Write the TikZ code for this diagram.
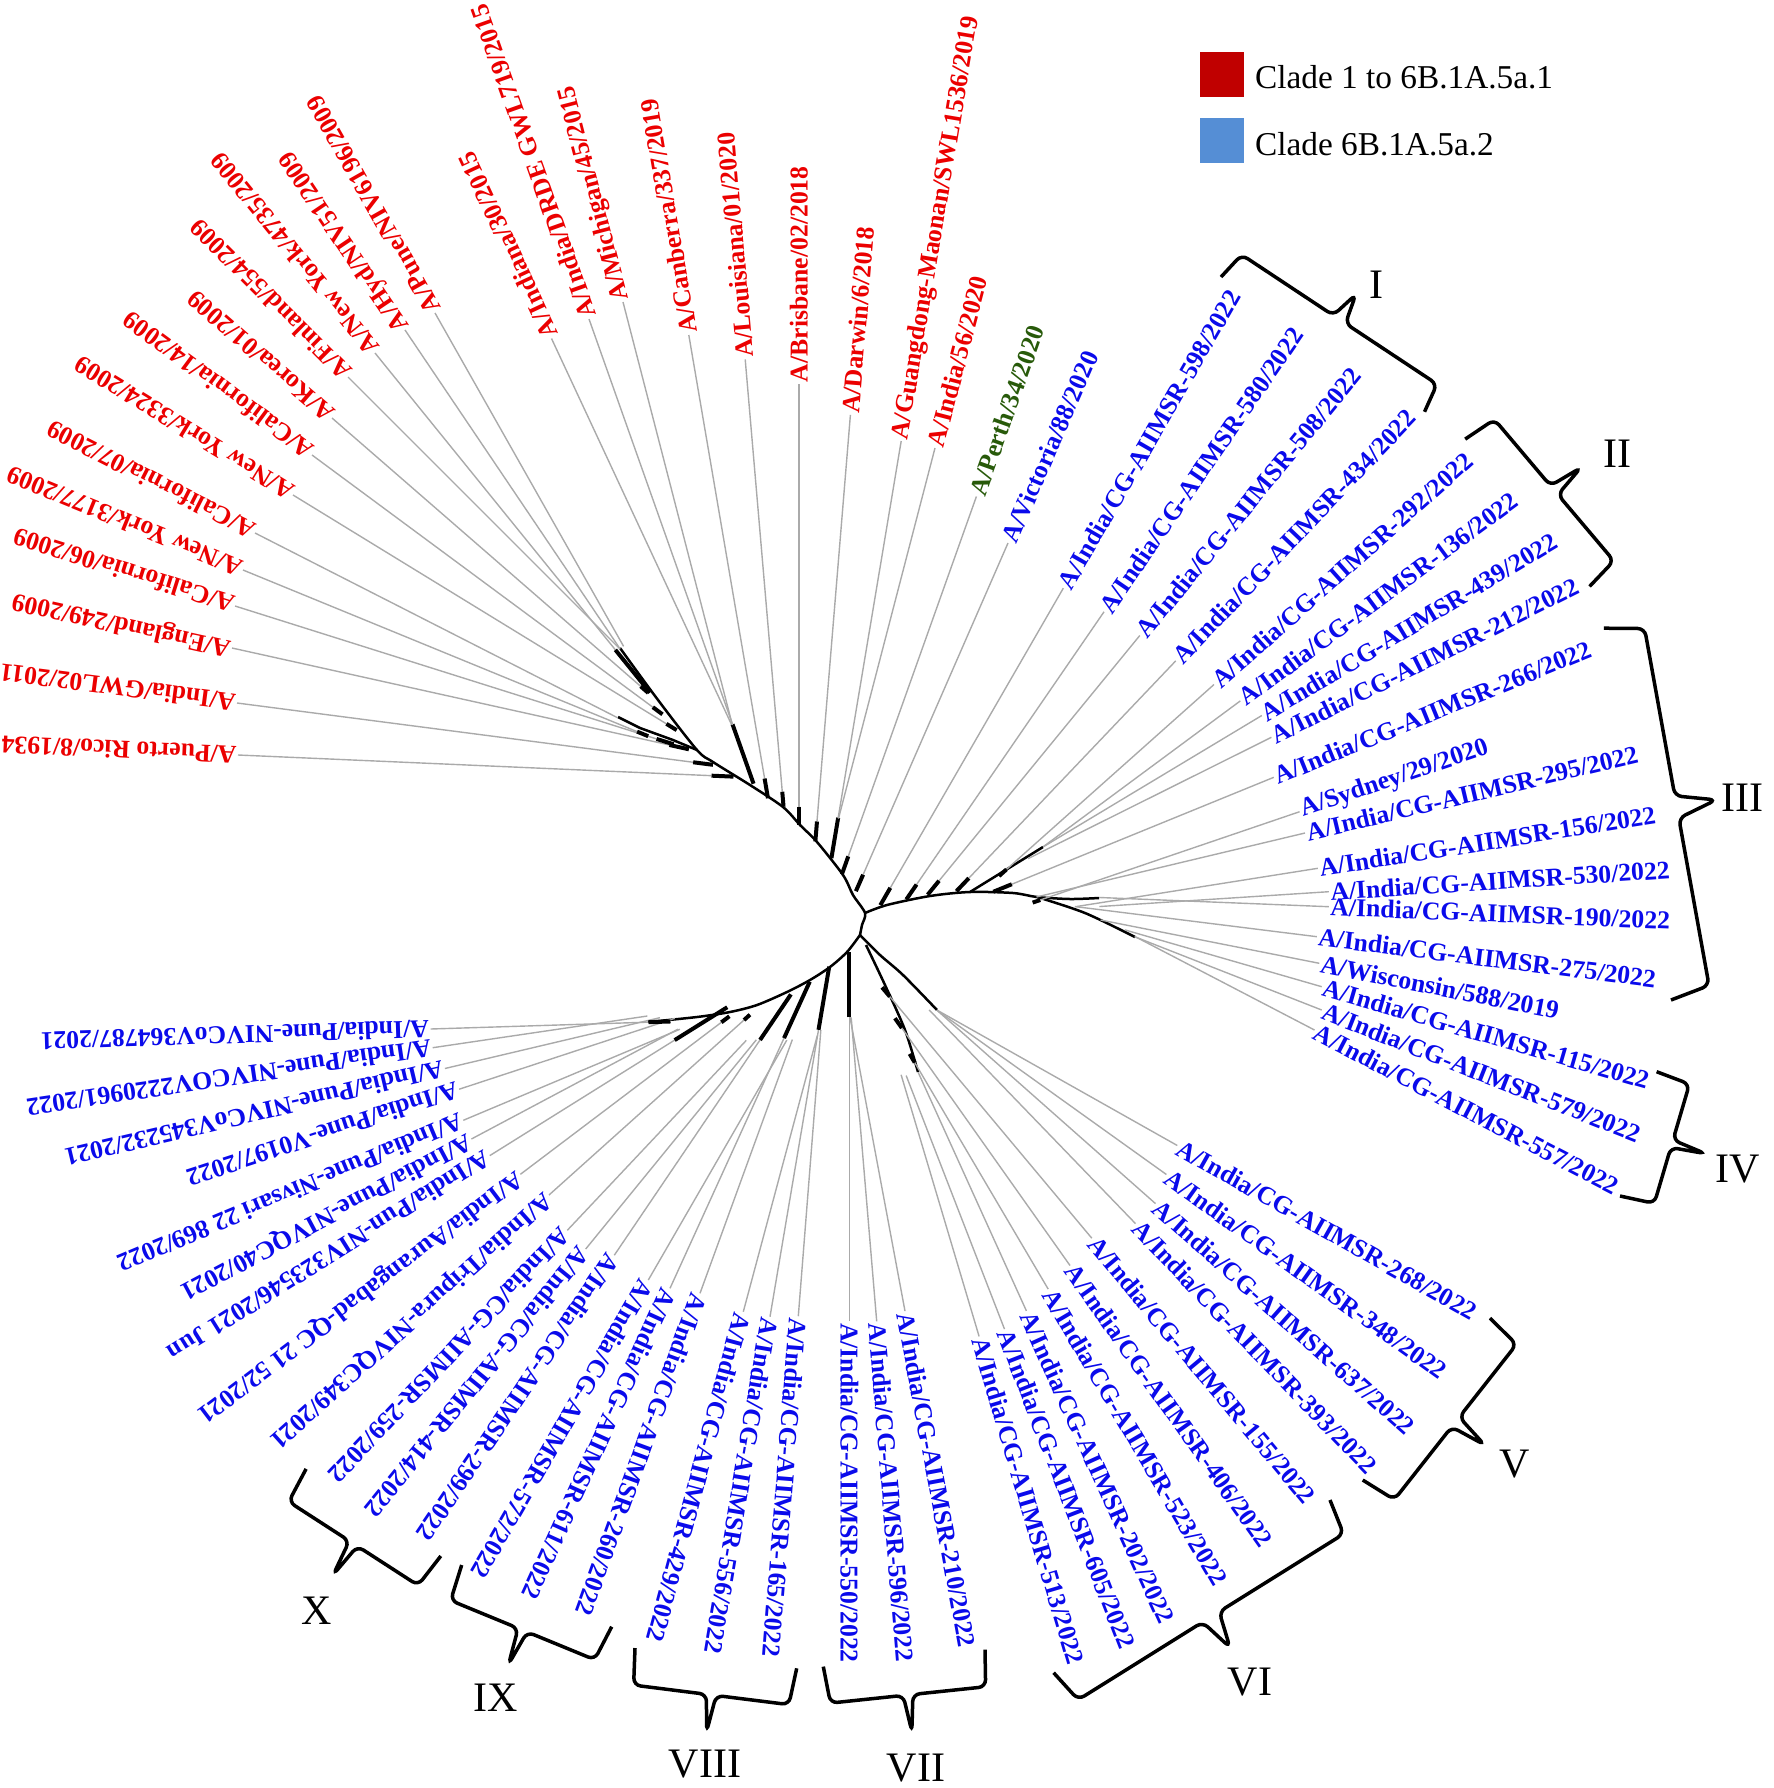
\documentclass[tikz,border=0pt]{standalone}
\usepackage{fontspec}
\setmainfont{Liberation Serif}
\usetikzlibrary{calc}

\definecolor{redlab}{RGB}{235,0,0}
\definecolor{bluelab}{RGB}{10,10,235}
\definecolor{greenlab}{RGB}{40,90,10}
\definecolor{linegray}{RGB}{170,170,170}
\definecolor{legred}{RGB}{192,0,0}
\definecolor{legblue}{RGB}{85,142,213}

\tikzset{
  taxon/.style={anchor=west, inner sep=1.5pt, font=\fontsize{25.7}{28}\selectfont\bfseries},
  dotline/.style={draw=linegray, line width=1.4pt},
  branch/.style={draw=black, line width=2.5pt, line join=round},
  twig/.style={draw=black, line width=4pt},
  clade/.style={draw=black, line width=3.5pt, rounded corners=7pt},
  cladename/.style={font=\fontsize{42}{44}\selectfont},
  key/.style={anchor=base west, inner sep=0pt, font=\fontsize{33.3}{36}\selectfont}
}

% colour, name, x, y, angle, gray length, black length, text
\newcommand{\taxon}[8]{%
  \node[taxon, text=#1, rotate=#5] (#2) at (#3,#4) {#8};
  \coordinate (#2t) at ($(#2.west)+({#5+180}:#6pt)$);
  \draw[dotline] (#2t) -- (#2.west);
  \ifdim #7pt>0pt \draw[twig] (#2t) -- ($(#2t)+({#5+180}:#7pt)$);\fi
}

% bracket from one end to the other, arms #3 out, tip 2*#3 out
\newcommand{\cladebrace}[3]{%
  \coordinate (q1) at ($(#1)!0.02!(#2)$);
  \coordinate (q2) at ($(#1)!0.47!(#2)$);
  \coordinate (q3) at ($(#1)!0.5!(#2)$);
  \coordinate (q4) at ($(#1)!0.53!(#2)$);
  \coordinate (q5) at ($(#1)!0.98!(#2)$);
  \draw[clade] (#1) -- ($(q1)!#3pt!90:(#2)$) -- ($(q2)!#3pt!90:(#2)$)
    -- ($(q3)!2*#3pt!90:(#2)$) -- ($(q4)!#3pt!90:(#2)$)
    -- ($(q5)!#3pt!90:(#2)$) -- (#2);
}

\begin{document}
\begin{tikzpicture}[x=1pt, y=-1pt]
\useasboundingbox (0,0) rectangle (1774,1788);

% backbone of the tree
\draw[branch] plot[smooth] coordinates {(860,935) (862,925) (865,913) (853,895) (843,875) (817,842) (800,825) (783,807) (750,785) (713,762) (697,750) (658,700) (620,648)};
\draw[branch] (697,750) -- (673,740) -- (640,728) -- (618,717);
\draw[branch] plot[smooth] coordinates {(865,913) (887,905) (930,896) (970,892) (1013,893) (1037,897) (1070,899) (1099,898)};
\draw[branch] (970,892) -- (1043,847);
\draw[branch] plot[smooth] coordinates {(1037,897) (1085,913) (1135,937)};
\draw[branch] plot[smooth] coordinates {(860,935) (847,952) (830,967) (810,980) (787,992) (757,1005) (730,1012) (697,1017) (648,1022)};
\draw[branch] plot[smooth] coordinates {(860,935) (880,955) (903,975) (937,1010)};
\draw[branch] plot[smooth] coordinates {(866,945) (885,985) (905,1030) (918,1072)};

% clade 1 to 6B.1A.5a.1
\taxon{redlab}{r1}{238}{755}{177.5}{474}{22}{A/Puerto Rico/8/1934}
\taxon{redlab}{r2}{237}{703}{172.6}{460}{20}{A/India/GWL02/2011}
\taxon{redlab}{r3}{232}{648}{167.5}{448}{20}{A/England/249/2009}
\taxon{redlab}{r4}{235}{606}{162.5}{442}{18}{A/California/06/2009}
\taxon{redlab}{r5}{243}{570}{157.7}{426}{12}{A/New York/3177/2009}
\taxon{redlab}{r6}{255}{533}{153}{407}{0}{A/California/07/2009}
\taxon{redlab}{r7}{293}{495}{148.5}{438}{12}{A/New York/3324/2009}
\taxon{redlab}{r8}{312}{455}{143.5}{424}{12}{A/California/14/2009}
\taxon{redlab}{r9}{332}{418}{139}{409}{10}{A/Korea/01/2009}
\taxon{redlab}{r10}{348}{377}{135}{385}{0}{A/Finland/554/2009}
\taxon{redlab}{r11}{375}{353}{129}{382}{55}{A/New York/4735/2009}
\taxon{redlab}{r12}{405}{330}{124}{384}{0}{A/Hyd/NIV51/2009}
\taxon{redlab}{r13}{435}{313}{119.5}{383}{0}{A/Pune/NIV6196/2009}
\taxon{redlab}{r14}{551.5}{338.5}{115}{426}{0}{A/Indiana/30/2015}
\taxon{redlab}{r15}{589}{319}{109.5}{430}{63}{A/India/DRDE GWL719/2015}
\taxon{redlab}{r16}{623}{302}{104.5}{437}{0}{A/Michigan/45/2015}
\taxon{redlab}{r17}{688.8}{335}{99.7}{450}{20}{A/Canberra/337/2019}
\taxon{redlab}{r18}{745.2}{359.4}{94.9}{434}{15}{A/Louisiana/01/2020}
\taxon{redlab}{r19}{798.9}{383.7}{90}{423}{18}{A/Brisbane/02/2018}
\taxon{redlab}{r20}{850.4}{414.9}{85.3}{408}{20}{A/Darwin/6/2018}
\taxon{redlab}{r21}{901.2}{441}{80.5}{382}{41}{A/Guangdong-Maonan/SWL1536/2019}
\taxon{redlab}{r22}{935}{448}{75.4}{383}{0}{A/India/56/2020}
\taxon{greenlab}{g1}{976.4}{496.5}{70.4}{382}{19}{A/Perth/34/2020}

% clade 6B.1A.5a.2
\taxon{bluelab}{b1}{1008}{543}{66.4}{362}{18}{A/Victoria/88/2020}
\taxon{bluelab}{b2}{1063.3}{588.2}{60}{346}{20}{A/India/CG-AIIMSR-598/2022}
\taxon{bluelab}{b3}{1104}{611.8}{55.5}{331}{18}{A/India/CG-AIIMSR-580/2022}
\taxon{bluelab}{b4}{1139.8}{635.5}{50.7}{317}{18}{A/India/CG-AIIMSR-508/2022}
\taxon{bluelab}{b5}{1175.7}{660.9}{46.4}{300}{18}{A/India/CG-AIIMSR-434/2022}
\taxon{bluelab}{b6}{1214}{684.5}{41.7}{278}{10}{A/India/CG-AIIMSR-292/2022}
\taxon{bluelab}{b7}{1240.3}{700.9}{36.5}{245}{0}{A/India/CG-AIIMSR-136/2022}
\taxon{bluelab}{b8}{1261.8}{715.5}{31}{255}{0}{A/India/CG-AIIMSR-439/2022}
\taxon{bluelab}{b9}{1271.4}{737.3}{26.5}{272}{0}{A/India/CG-AIIMSR-212/2022}
\taxon{bluelab}{b10}{1273.8}{777.3}{22.2}{283}{20}{A/India/CG-AIIMSR-266/2022}
\taxon{bluelab}{b11}{1299.6}{811.7}{18.8}{274}{8}{A/Sydney/29/2020}
\taxon{bluelab}{b12}{1305}{833}{13.4}{276}{0}{A/India/CG-AIIMSR-295/2022}
\taxon{bluelab}{b13}{1317.8}{868.3}{9}{244}{0}{A/India/CG-AIIMSR-156/2022}
\taxon{bluelab}{b14}{1328.8}{891.7}{3.7}{230}{0}{A/India/CG-AIIMSR-530/2022}
\taxon{bluelab}{b15}{1328.8}{906.7}{-2.3}{230}{0}{A/India/CG-AIIMSR-190/2022}
\taxon{bluelab}{b16}{1316.9}{936.7}{-7.1}{244}{0}{A/India/CG-AIIMSR-275/2022}
\taxon{bluelab}{b17}{1319.3}{963.3}{-11.2}{223}{0}{A/Wisconsin/588/2019}
\taxon{bluelab}{b18}{1321.7}{986.7}{-16.1}{205}{0}{A/India/CG-AIIMSR-115/2022}
\taxon{bluelab}{b19}{1321.7}{1010}{-21.4}{201}{0}{A/India/CG-AIIMSR-579/2022}
\taxon{bluelab}{b20}{1314.5}{1030}{-27.5}{202}{0}{A/India/CG-AIIMSR-557/2022}
\taxon{bluelab}{b21}{1177.3}{1145.5}{-29.4}{276}{0}{A/India/CG-AIIMSR-268/2022}
\taxon{bluelab}{b22}{1166.4}{1174.5}{-35.6}{282}{0}{A/India/CG-AIIMSR-348/2022}
\taxon{bluelab}{b23}{1155.5}{1203.6}{-41.5}{292}{0}{A/India/CG-AIIMSR-637/2022}
\taxon{bluelab}{b24}{1135.5}{1223.6}{-46}{297}{0}{A/India/CG-AIIMSR-393/2022}
\taxon{bluelab}{b25}{1091.8}{1238.2}{-50.1}{315}{12}{A/India/CG-AIIMSR-155/2022}
\taxon{bluelab}{b26}{1070}{1265.5}{-54.7}{291}{12}{A/India/CG-AIIMSR-406/2022}
\taxon{bluelab}{b27}{1048.2}{1289.1}{-59.5}{263}{10}{A/India/CG-AIIMSR-523/2022}
\taxon{bluelab}{b28}{1026.4}{1310.9}{-65.6}{262}{0}{A/India/CG-AIIMSR-202/2022}
\taxon{bluelab}{b29}{1004.5}{1329.1}{-68.8}{272}{0}{A/India/CG-AIIMSR-605/2022}
\taxon{bluelab}{b30}{979.1}{1336.4}{-73.4}{273}{0}{A/India/CG-AIIMSR-513/2022}
\taxon{bluelab}{b31}{905}{1311.1}{-79.4}{299}{0}{A/India/CG-AIIMSR-210/2022}
\taxon{bluelab}{b32}{876.7}{1321.3}{-85.2}{305}{0}{A/India/CG-AIIMSR-596/2022}
\taxon{bluelab}{b33}{849.3}{1321.3}{-90}{304}{65}{A/India/CG-AIIMSR-550/2022}
\taxon{bluelab}{b34}{798.3}{1316.2}{-94.5}{287}{0}{A/India/CG-AIIMSR-165/2022}
\taxon{bluelab}{b35}{770}{1316.7}{-99.6}{291}{64}{A/India/CG-AIIMSR-556/2022}
\taxon{bluelab}{b36}{743.3}{1311.7}{-105}{286}{0}{A/India/CG-AIIMSR-429/2022}
\taxon{bluelab}{b37}{700}{1293.3}{-110}{270}{0}{A/India/CG-AIIMSR-260/2022}
\taxon{bluelab}{b38}{670}{1288.3}{-114.5}{275}{62}{A/India/CG-AIIMSR-611/2022}
\taxon{bluelab}{b39}{648.3}{1280}{-120}{277}{0}{A/India/CG-AIIMSR-572/2022}
\taxon{bluelab}{b40}{614.3}{1255.2}{-124.1}{260}{55}{A/India/CG-AIIMSR-299/2022}
\taxon{bluelab}{b41}{585.7}{1249}{-129.2}{270}{0}{A/India/CG-AIIMSR-414/2022}
\taxon{bluelab}{b42}{567.3}{1230.3}{-133.3}{261}{0}{A/India/CG-AIIMSR-259/2022}
\taxon{bluelab}{b43}{549}{1195}{-138.1}{262}{8}{A/India/Tripura-NIVQC349/2021}
\taxon{bluelab}{b44}{520.4}{1174.3}{-142.9}{252}{10}{A/India/Aurangabad-QC 21 52/2021}
\taxon{bluelab}{b45}{489.8}{1155.6}{-148}{218}{62}{A/India/Pun-NIV323546/2021 Jun}
\taxon{bluelab}{b46}{471.4}{1139}{-152}{234}{0}{A/India/Pune-NIVQC40/2021}
\taxon{bluelab}{b47}{463.3}{1120.3}{-157.2}{235}{0}{A/India/Pune-Nivsari 22 869/2022}
\taxon{bluelab}{b48}{459.2}{1089.2}{-161.8}{227}{0}{A/India/Pune-V0197/2022}
\taxon{bluelab}{b49}{444.9}{1068.5}{-166.7}{221}{0}{A/India/Pune-NIVCoV345232/2021}
\taxon{bluelab}{b50}{432.7}{1047.7}{-171.6}{217}{0}{A/India/Pune-NIVCOV2220961/2022}
\taxon{bluelab}{b51}{430.6}{1029}{-178.2}{218}{22}{A/India/Pune-NIVCoV364787/2021}

% clade brackets
\cladebrace{1221,277}{1424.5,411.8}{30}
\cladebrace{1465.2,439.1}{1589.6,586.4}{35}
\cladebrace{1603.9,628.2}{1671,1000}{40}
\cladebrace{1656.6,1071.7}{1620,1196}{35}
\cladebrace{1490,1318.2}{1362.7,1480}{37}
\cladebrace{1330,1500}{1053.6,1672.7}{36}
\cladebrace{985,1649.6}{823.3,1666.6}{37}
\cladebrace{796.7,1668.3}{635,1648}{37}
\cladebrace{611.7,1626.7}{461.7,1565}{37}
\cladebrace{440.8,1556}{306.1,1468.9}{37}
\node[cladename] (c1) at (1376,285) {I};
\node[cladename] (c2) at (1617,454) {II};
\node[cladename] (c3) at (1742,798) {III};
\node[cladename] (c4) at (1738,1169) {IV};
\node[cladename] (c5) at (1515,1464) {V};
\node[cladename] (c6) at (1250,1682) {VI};
\node[cladename] (c7) at (916,1768) {VII};
\node[cladename] (c8) at (705,1764) {VIII};
\node[cladename] (c9) at (496,1698) {IX};
\node[cladename] (c10) at (317,1611) {X};

% legend
\fill[legred] (1200,51.7) rectangle (1244.3,96.7);
\node[key] (k1) at (1255,88.3) {Clade 1 to 6B.1A.5a.1};
\fill[legblue] (1200,118.3) rectangle (1244.3,163.3);
\node[key] (k2) at (1255,155) {Clade 6B.1A.5a.2};
\end{tikzpicture}
\end{document}
